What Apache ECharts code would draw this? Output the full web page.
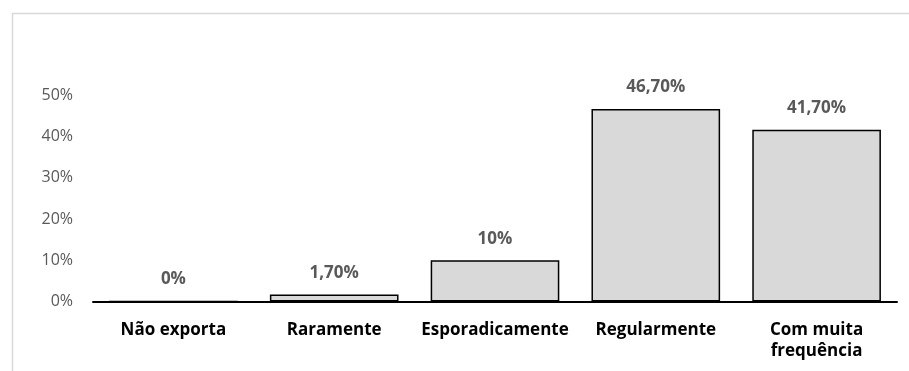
<!DOCTYPE html>
<html>
<head>
<meta charset="utf-8">
<style>
  html, body { margin: 0; padding: 0; background: #fff; }
  #chart { width: 909px; height: 371px; }
</style>
<script src="https://cdn.jsdelivr.net/npm/echarts@6/dist/echarts.min.js"></script>
</head>
<body>
<div id="chart"></div>
<script>
// Frequência de exportação (percentagem de respostas)
const categories = ['Não exporta', 'Raramente', 'Esporadicamente', 'Regularmente', 'Com muita\nfrequência'];
const values = [0, 1.7, 10, 46.7, 41.7];
const valueLabels = ['0%', '1,70%', '10%', '46,70%', '41,70%'];
const yTicks = [0, 10, 20, 30, 40, 50];

const FONT = '"Open Sans", sans-serif';

const chart = echarts.init(document.getElementById('chart'), null, { renderer: 'canvas' });

chart.setOption({
  animation: false,
  backgroundColor: '#ffffff',
  graphic: [{
    type: 'rect',
    left: 10,
    top: 11,
    shape: { width: 1200, height: 1200 },
    style: { fill: 'none', stroke: '#d9d9d9', lineWidth: 1.5 },
    silent: true
  }],
  grid: { left: 93, right: 12, top: 95.5, bottom: 69.5, containLabel: false },
  xAxis: {
    type: 'category',
    data: categories,
    axisLine: { show: true, lineStyle: { color: '#000', width: 2 } },
    axisTick: { show: false },
    axisLabel: {
      color: '#000',
      fontFamily: FONT,
      fontWeight: 'bold',
      fontSize: 17,
      margin: 18,
      lineHeight: 21,
      interval: 0
    }
  },
  yAxis: {
    type: 'value',
    min: yTicks[0],
    max: yTicks[yTicks.length - 1],
    interval: 10,
    splitLine: { show: false },
    axisLine: { show: false },
    axisTick: { show: false },
    axisLabel: {
      color: '#595959',
      fontFamily: FONT,
      fontSize: 16,
      margin: 20,
      padding: [4, 0, 0, 0],
      formatter: v => v + '%'
    }
  },
  series: [{
    type: 'bar',
    data: values,
    barWidth: '80%',
    itemStyle: { color: '#d9d9d9', borderColor: '#000', borderWidth: 1.5 },
    label: {
      show: true,
      position: 'top',
      distance: 13,
      color: '#595959',
      fontFamily: FONT,
      fontWeight: 'bold',
      fontSize: 17,
      formatter: p => valueLabels[p.dataIndex]
    }
  }]
});
</script>
</body>
</html>
